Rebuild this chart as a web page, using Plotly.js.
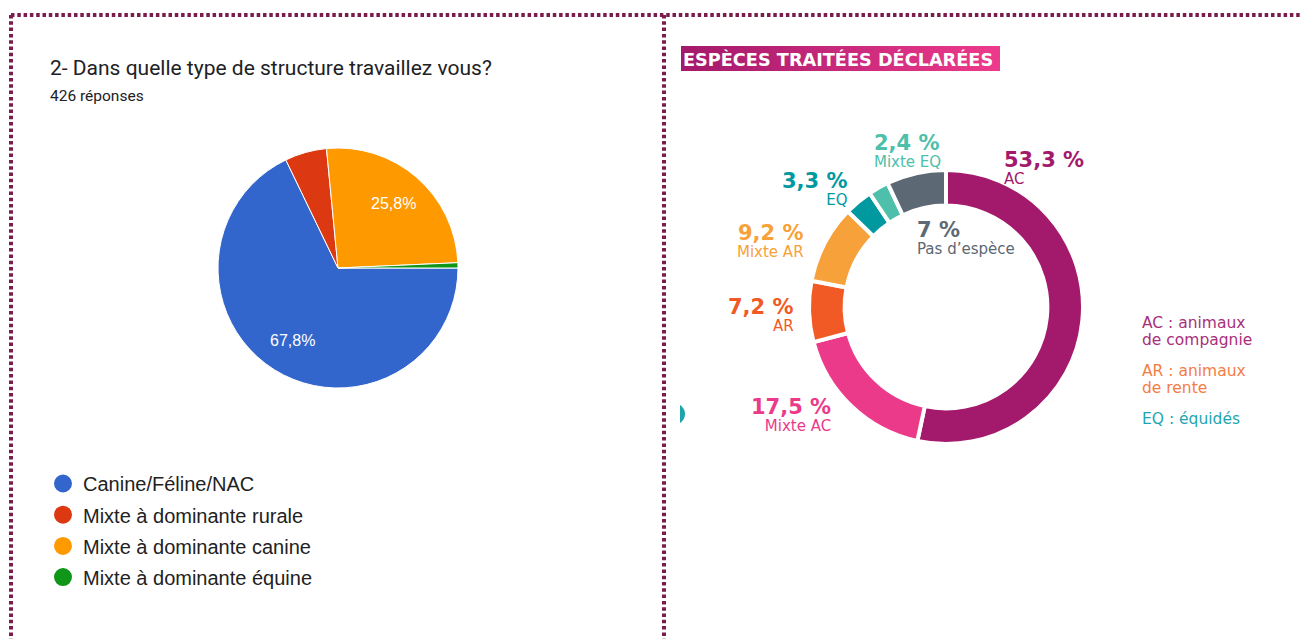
<!DOCTYPE html>
<html><head><meta charset="utf-8">
<script src="https://cdn.plot.ly/plotly-3.0.1.min.js"></script>
<style>html,body{margin:0;padding:0;background:#fff}#chart{width:1300px;height:639px}</style>
</head><body><div id="chart"></div>
<script>
const W = 1300, H = 639;

// ---- Left chart data (Google Forms pie) ----
const structTitle = "2- Dans quelle type de structure travaillez vous?";
const structResponses = "426 réponses";
const structLabels = ["Canine/Féline/NAC", "Mixte à dominante rurale", "Mixte à dominante canine", "Mixte à dominante équine"];
const structCounts = [289, 24, 110, 3];
const structColors = ["#3366cc", "#dc3912", "#ff9900", "#109618"];

// ---- Right chart data (donut) ----
const speciesTitle = "ESPÈCES TRAITÉES DÉCLARÉES";
const speciesLabels = ["AC", "Mixte AC", "AR", "Mixte AR", "EQ", "Mixte EQ", "Pas d’espèce"];
const speciesPct = [53.3, 17.5, 7.2, 9.2, 3.3, 2.4, 7];
const speciesColors = ["#a3196b", "#ec3a8b", "#f15a24", "#f7a13a", "#00999f", "#4dbfaa", "#5c6873"];
const speciesKey = [["AC : animaux", "de compagnie"], ["AR : animaux", "de rente"], ["EQ : équidés"]];
const speciesKeyColors = ["#a8307c", "#f47d45", "#1fa6b0"];

const px = x => x / W;
const py = y => 1 - y / H;

// geometry (layout)
const L = {cx: 338, cy: 268, r: 120};
const R = {cx: 946, cy: 307, r: 137};

const traces = [];
traces.push({
  type: 'pie', values: structCounts, labels: structLabels, sort: false,
  direction: 'clockwise', rotation: 90, textinfo: 'none', hoverinfo: 'none',
  marker: {colors: structColors, line: {color: '#ffffff', width: 1}},
  domain: {x: [px(L.cx - L.r), px(L.cx + L.r)], y: [py(L.cy + L.r), py(L.cy - L.r)]},
  showlegend: false
});
traces.push({
  type: 'pie', values: speciesPct, labels: speciesLabels, sort: false,
  direction: 'clockwise', rotation: 0, hole: 0.74, textinfo: 'none', hoverinfo: 'none',
  marker: {colors: speciesColors, line: {color: '#ffffff', width: 4}},
  domain: {x: [px(R.cx - R.r), px(R.cx + R.r)], y: [py(R.cy + R.r), py(R.cy - R.r)]},
  showlegend: false
});
structLabels.forEach((lab, i) => {
  traces.push({
    type: 'scatter', mode: 'markers', x: [null], y: [null], name: lab,
    legendgroup: 'g' + i, hoverinfo: 'none',
    marker: {symbol: 'circle', size: 16, color: structColors[i], line: {width: 2, color: structColors[i]}}
  });
});

const ann = [];
const shapes = [];
// left titles
ann.push({x: px(48), y: py(68), xanchor: 'left', yanchor: 'middle', text: structTitle,
  font: {family: 'Roboto', size: 21, color: '#202124'}});
ann.push({x: px(48), y: py(96), xanchor: 'left', yanchor: 'middle', text: structResponses,
  font: {family: 'Roboto', size: 15.5, color: '#202124'}});
// left in-slice labels
const tot = structCounts.reduce((a, b) => a + b, 0);
let cum = 0;
structCounts.forEach((v, i) => {
  const a0 = 90 + cum / tot * 360; cum += v;
  const a1 = 90 + cum / tot * 360;
  const m = (a0 + a1) / 2 * Math.PI / 180;
  if (v / tot >= 0.1) {
    ann.push({x: px(L.cx + 0.71 * L.r * Math.sin(m)), y: py(L.cy - 0.71 * L.r * Math.cos(m)),
      xanchor: 'center', yanchor: 'middle',
      text: (v / tot * 100).toFixed(1).replace('.', ',') + '%',
      font: {family: 'Liberation Sans', size: 16, color: '#ffffff'}});
  }
});

// right title bar (gradient)
const svg = "<svg xmlns='http://www.w3.org/2000/svg' width='320' height='25' preserveAspectRatio='none'><defs><linearGradient id='g' x1='0' x2='1' y1='0' y2='0'><stop offset='0' stop-color='#a3196b'/><stop offset='1' stop-color='#ee3a8c'/></linearGradient></defs><rect width='320' height='25' fill='url(#g)'/></svg>";
const images = [{source: 'data:image/svg+xml;charset=utf-8,' + encodeURIComponent(svg),
  xref: 'paper', yref: 'paper', x: px(681), y: py(46), sizex: 319 / W, sizey: 25 / H,
  sizing: 'stretch', xanchor: 'left', yanchor: 'top', layer: 'above'}];
shapes.push({type: 'rect', xref: 'paper', yref: 'paper', x0: px(681), x1: px(1000), y0: py(71), y1: py(46),
  fillcolor: '#c62a7e', line: {width: 0}, layer: 'below'});
ann.push({x: px(681), y: py(59), xanchor: 'left', yanchor: 'middle', text: speciesTitle,
  font: {family: 'DejaVu Sans', size: 17.7, color: '#ffffff', weight: 'bold'}});

// donut labels (anchor edge x, y of the percentage line)
const labPos = [
  {x: 1002, y: 160, a: 'left'},
  {x: 833, y: 407, a: 'right'},
  {x: 796, y: 307, a: 'right'},
  {x: 806, y: 233, a: 'right'},
  {x: 850, y: 181, a: 'right'},
  {x: 872, y: 143, a: 'left'},
  {x: 915, y: 230, a: 'left'}
];
speciesPct.forEach((v, i) => {
  const p = labPos[i];
  ann.push({x: px(p.x), y: py(p.y + 8), xanchor: p.a, yanchor: 'middle', align: p.a,
    text: '<span style="font-size:21px;font-weight:bold">' + String(v).replace('.', ',') + ' %</span><br>' +
          '<span style="font-size:15px">' + speciesLabels[i] + '</span>',
    font: {family: 'DejaVu Sans', size: 13.3, color: speciesColors[i]}});
});
// key
let ky = 323;
speciesKey.forEach((lines, i) => {
  const n = lines.length;
  ann.push({x: px(1140), y: py(ky + (n - 1) * 8.5), xanchor: 'left', yanchor: 'middle', align: 'left',
    text: lines.map(t => '<span style="font-size:15.5px">' + t + '</span>').join('<br>'),
    font: {family: 'DejaVu Sans', size: 13.1, color: speciesKeyColors[i]}});
  ky += n * 17 + 14;
});
ann.forEach(a => { a.xref = 'paper'; a.yref = 'paper'; a.showarrow = false; });

// cut-off teal circle at the right panel's left edge
shapes.push({type: 'circle', xref: 'paper', yref: 'paper', x0: px(662), x1: px(685), y0: py(425), y1: py(403),
  fillcolor: '#1fa3ad', line: {width: 0}});
shapes.push({type: 'rect', xref: 'paper', yref: 'paper', x0: px(660), x1: px(680), y0: py(430), y1: py(398),
  fillcolor: '#ffffff', line: {width: 0}});
// dotted frame
const dot = {color: '#7a1d4c', width: 4, dash: '3.5px,2.8px'};
shapes.push({type: 'line', xref: 'paper', yref: 'paper', x0: px(11), x1: px(1300), y0: py(15), y1: py(15), line: dot});
shapes.push({type: 'line', xref: 'paper', yref: 'paper', x0: px(11), x1: px(11), y0: py(15), y1: py(639), line: dot});
shapes.push({type: 'line', xref: 'paper', yref: 'paper', x0: px(664), x1: px(664), y0: py(15), y1: py(639), line: dot});

const layout = {
  width: W, height: H, margin: {l: 0, r: 0, t: 0, b: 0},
  paper_bgcolor: '#ffffff', plot_bgcolor: '#ffffff',
  xaxis: {visible: false, fixedrange: true, domain: [0, 0.01]},
  yaxis: {visible: false, fixedrange: true, domain: [0, 0.01]},
  showlegend: true,
  legend: {x: px(43), y: py(464), xanchor: 'left', yanchor: 'top', traceorder: 'grouped',
    tracegroupgap: 2.2, bgcolor: 'rgba(0,0,0,0)',
    font: {family: 'Liberation Sans', size: 20, color: '#222222'}},
  annotations: ann, shapes: shapes, images: images
};
Plotly.newPlot('chart', traces, layout, {displayModeBar: false, staticPlot: true});
</script></body></html>
